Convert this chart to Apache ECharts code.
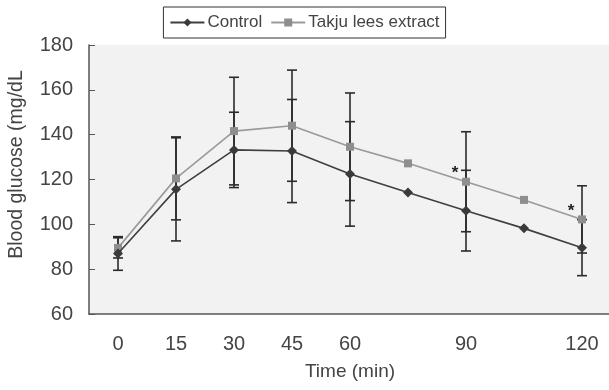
<!DOCTYPE html>
<html>
<head>
<meta charset="utf-8">
<script src="https://cdn.jsdelivr.net/npm/echarts@6/dist/echarts.min.js"></script>
<style>
  html, body { margin: 0; padding: 0; background: #fff; }
  #main { width: 609px; height: 390px; }
</style>
</head>
<body>
<div id="main"></div>
<script>
// time points (min), 75 and 105 have no label
var timeCats = ['0', '15', '30', '45', '60', '75', '90', '105', '120'];
var hiddenLabels = ['75', '105'];

// blood glucose means and SD
var controlMean = [87, 115.6, 133.2, 132.7, 122.5, 114.2, 106.1, 98.2, 89.6];
var controlSD   = [7.5, 23, 16.8, 23, 23.3, null, 18, null, 12.5];
var takjuMean   = [89.5, 120.5, 141.6, 144, 134.6, 127.2, 119, 110.9, 102.2];
var takjuSD     = [4.5, 18.5, 24, 24.8, 24, null, 22.3, null, 15];

// significant points (*) on the takju series
var sigIdx = [6, 8];

var yTicks = { min: 60, max: 180, step: 20 };

var chart = echarts.init(document.getElementById('main'));

function errorBarSeries(name, means, sds) {
  var data = [];
  for (var i = 0; i < means.length; i++) {
    if (sds[i] != null) data.push([i, means[i], sds[i]]);
  }
  return {
    name: name + ' SD',
    type: 'custom',
    silent: true,
    z: 1,
    renderItem: function (params, api) {
      var i = api.value(0), m = api.value(1), sd = api.value(2);
      var top = api.coord([i, m + sd]);
      var bot = api.coord([i, m - sd]);
      var hw = 5;
      var st = { stroke: '#2b2b2b', lineWidth: 1.6 };
      return {
        type: 'group',
        children: [
          { type: 'line', shape: { x1: top[0], y1: top[1], x2: bot[0], y2: bot[1] }, style: st },
          { type: 'line', shape: { x1: top[0] - hw, y1: top[1], x2: top[0] + hw, y2: top[1] }, style: st },
          { type: 'line', shape: { x1: bot[0] - hw, y1: bot[1], x2: bot[0] + hw, y2: bot[1] }, style: st }
        ]
      };
    },
    data: data
  };
}

var option = {
  animation: false,
  backgroundColor: '#fff',
  textStyle: { fontFamily: 'Liberation Sans, Arial, sans-serif' },
  legend: {
    top: 7,
    left: 'center',
    data: ['Control', 'Takju lees extract'],
    borderColor: '#333',
    borderWidth: 1,
    padding: [7, 6, 7, 6],
    itemGap: 8,
    itemWidth: 34,
    itemHeight: 10,
    textStyle: { fontSize: 17, color: '#444', padding: [0, 0, 0, -2] }
  },
  grid: {
    left: 89, top: 45, width: 522, bottom: 76,
    outerBoundsMode: 'none',
    containLabel: false,
    show: true, backgroundColor: '#f2f2f2', borderWidth: 0
  },
  xAxis: {
    type: 'category',
    data: timeCats,
    boundaryGap: true,
    name: 'Time (min)',
    nameLocation: 'middle',
    nameGap: 48,
    nameTextStyle: { fontSize: 19, color: '#444' },
    axisLine: { lineStyle: { color: '#555', width: 1.5 } },
    axisTick: { inside: true, length: 6, interval: 0, lineStyle: { color: '#555' } },
    axisLabel: {
      interval: 0, fontSize: 20, color: '#444', margin: 20,
      formatter: function (v) { return hiddenLabels.indexOf(v) >= 0 ? '' : v; }
    },
    splitLine: { show: false }
  },
  yAxis: {
    type: 'value',
    min: yTicks.min, max: yTicks.max, interval: yTicks.step,
    name: 'Blood glucose (mg/dL',
    nameLocation: 'middle',
    nameGap: 62,
    nameRotate: 90,
    nameTextStyle: { fontSize: 19.5, color: '#444', padding: [0, 0, 0, 30] },
    axisLine: { show: true, lineStyle: { color: '#555', width: 1.5 } },
    axisTick: { show: true, inside: true, length: 6, lineStyle: { color: '#555' } },
    axisLabel: { fontSize: 20, color: '#444', margin: 16 },
    splitLine: { show: false }
  },
  series: [
    errorBarSeries('Control', controlMean, controlSD),
    errorBarSeries('Takju', takjuMean, takjuSD),
    {
      name: 'Takju lees extract',
      type: 'line',
      z: 3,
      data: takjuMean,
      symbol: 'rect',
      symbolSize: 8,
      lineStyle: { color: '#9a9a9a', width: 1.6 },
      itemStyle: { color: '#8e8e8e' }
    },
    {
      name: 'Control',
      type: 'line',
      z: 4,
      data: controlMean,
      symbol: 'diamond',
      symbolSize: 10,
      lineStyle: { color: '#3f3f3f', width: 1.6 },
      itemStyle: { color: '#3a3a3a' }
    },
    {
      name: 'sig',
      type: 'custom',
      silent: true,
      z: 5,
      renderItem: function (params, api) {
        var p = api.coord([api.value(0), api.value(1)]);
        return {
          type: 'text',
          x: p[0] - 11, y: p[1] - 8,
          style: { text: '*', fill: '#222', align: 'center', verticalAlign: 'middle', font: 'bold 17px Liberation Sans' }
        };
      },
      data: sigIdx.map(function (i) { return [i, takjuMean[i]]; })
    }
  ]
};

chart.setOption(option);
</script>
</body>
</html>
